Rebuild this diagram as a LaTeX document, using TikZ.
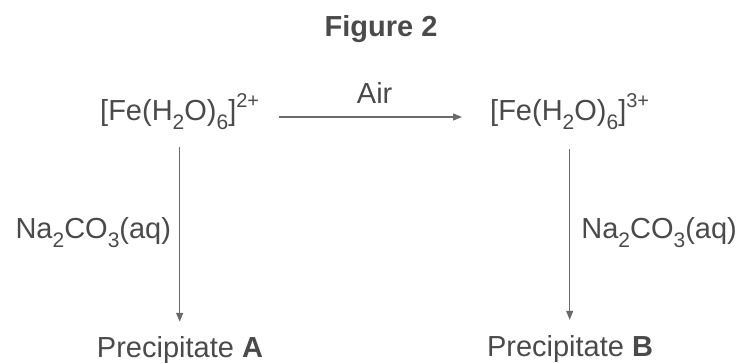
\documentclass[tikz,border=0pt]{standalone}
\usepackage{fontspec}
\setmainfont{Liberation Sans}
\usetikzlibrary{arrows.meta}
\definecolor{txt}{HTML}{4A4A4A}
\definecolor{ln}{HTML}{6A6A6A}
\newcommand\dn[1]{\raisebox{-0.3em}{\fontsize{21}{21}\selectfont #1}}
\newcommand\upp[1]{\raisebox{0.45em}{\fontsize{20}{20}\selectfont #1}}
\begin{document}
\begin{tikzpicture}[x=1pt,y=-1pt,
  lbl/.style={text=txt,inner sep=0pt,font=\fontsize{29}{31}\selectfont},
  arr/.style={draw=ln,line width=1.3pt,-{Triangle[length=9pt,width=7pt]}}]
\useasboundingbox (0,0) rectangle (741,363);
\node[lbl,anchor=base,font=\fontsize{29}{31}\selectfont\bfseries] (title) at (381,37) {Figure 2};
\node[lbl,anchor=base west] (fe2) at (100,121) {[Fe(H\dn{2}O)\dn{6}]\upp{2+}};
\node[lbl,anchor=base west] (fe3) at (490,121) {[Fe(H\dn{2}O)\dn{6}]\upp{3+}};
\node[lbl,anchor=base] (pA) at (180,357) {Precipitate \textbf{A}};
\node[lbl,anchor=base] (pB) at (570,356) {Precipitate \textbf{B}};
\draw[arr,shorten <=20pt,shorten >=28pt] ([yshift=4pt]fe2.base east) -- ([yshift=4pt]fe3.base west) node[lbl,midway,above=13pt] (air) {Air};
\draw[arr,shorten <=17pt,shorten >=14pt] (fe2.south) -- (fe2.south |- pA.north) node[lbl,midway,left=8pt] (na1) {Na\dn{2}CO\dn{3}(aq)};
\draw[arr,shorten <=19pt,shorten >=15pt] (fe3.south) -- (fe3.south |- pB.north) node[lbl,midway,right=11pt] (na2) {Na\dn{2}CO\dn{3}(aq)};
\end{tikzpicture}
\end{document}
